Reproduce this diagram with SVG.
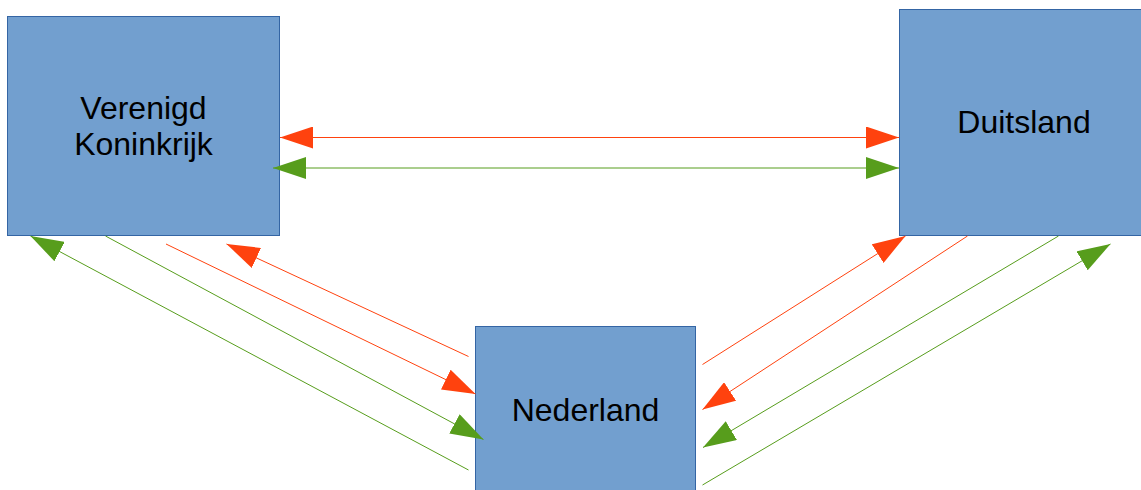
<svg xmlns="http://www.w3.org/2000/svg" width="1141" height="490" viewBox="0 0 1141 490">
<style>
.box{fill:#729fcf;stroke:#3465a4;stroke-width:1}
.lbl{font-family:"Liberation Sans",Arial,sans-serif;font-size:32px;fill:#000;text-anchor:middle}
.red{stroke:#ff420e;stroke-width:1;fill:none}
.grn{stroke:#579d1c;stroke-width:1;fill:none}
</style>
<defs>
<marker id="ar" viewBox="0 0 33 22" refX="33" refY="11" markerWidth="33" markerHeight="22" markerUnits="userSpaceOnUse" orient="auto-start-reverse">
<path d="M0,0 L33,11 L0,22 z" fill="#ff420e"/>
</marker>
<marker id="ag" viewBox="0 0 33 22" refX="33" refY="11" markerWidth="33" markerHeight="22" markerUnits="userSpaceOnUse" orient="auto-start-reverse">
<path d="M0,0 L33,11 L0,22 z" fill="#579d1c"/>
</marker>
</defs>
<rect width="1141" height="490" fill="#fff"/>
<g id="vk">
<rect class="box" x="7.5" y="16.5" width="272" height="219"/>
<text class="lbl" x="143.5" y="119">Verenigd</text>
<text class="lbl" x="143.5" y="155">Koninkrijk</text>
</g>
<g id="duitsland">
<rect class="box" x="899.5" y="9.5" width="250" height="226"/>
<text class="lbl" x="1024" y="133">Duitsland</text>
</g>
<g id="nederland">
<rect class="box" x="475.5" y="326.5" width="220" height="170"/>
<text class="lbl" x="585.5" y="421">Nederland</text>
</g>
<g id="connectors">
<line class="red" x1="280" y1="137.5" x2="899" y2="137.5" marker-start="url(#ar)" marker-end="url(#ar)"/>
<line class="grn" x1="273" y1="168" x2="899" y2="168" marker-start="url(#ag)" marker-end="url(#ag)"/>
<line class="grn" x1="105.5" y1="236" x2="483.5" y2="439.5" marker-end="url(#ag)"/>
<line class="grn" x1="468.5" y1="470" x2="30.5" y2="236" marker-end="url(#ag)"/>
<line class="red" x1="166" y1="244" x2="475.5" y2="394" marker-end="url(#ar)"/>
<line class="red" x1="468.5" y1="356.5" x2="226.5" y2="244" marker-end="url(#ar)"/>
<line class="red" x1="702.5" y1="364.5" x2="905.5" y2="236" marker-end="url(#ar)"/>
<line class="red" x1="967.5" y1="236" x2="702.5" y2="409.5" marker-end="url(#ar)"/>
<line class="grn" x1="1058.5" y1="236" x2="703" y2="447.5" marker-end="url(#ag)"/>
<line class="grn" x1="702.5" y1="485" x2="1110.5" y2="244" marker-end="url(#ag)"/>
</g>
</svg>
